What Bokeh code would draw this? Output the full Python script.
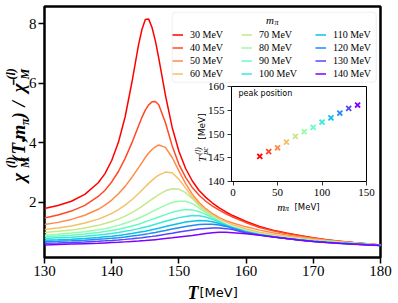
import math
from bokeh.plotting import figure
from bokeh.models import Range1d, Label, Legend, LegendItem, BoxAnnotation, FixedTicker
from bokeh.embed import file_html
from bokeh.resources import INLINE

# ---------------- data ----------------
T = [130, 132, 134, 136, 138, 139, 140, 141, 142, 143, 144, 144.5, 145, 145.5, 146, 146.5, 147,
     148, 149, 150, 151, 152, 153, 154, 155, 156, 157, 158, 160, 162, 164, 166, 168, 170, 172,
     174, 176, 178, 180]

chi_30 = [1.80, 1.90, 2.04, 2.27, 2.66, 2.97, 3.41, 4.02, 4.88, 6.03, 7.30, 7.81, 8.15, 8.16, 7.88, 7.43, 6.85,
          5.60, 4.52, 3.72, 3.14, 2.72, 2.40, 2.17, 1.98, 1.82, 1.68, 1.56, 1.36, 1.19, 1.07, 0.97, 0.89, 0.81,
          0.75, 0.70, 0.65, 0.61, 0.57]
chi_40 = [1.48, 1.575, 1.71, 1.90, 2.20, 2.41, 2.69, 3.04, 3.48, 4.00, 4.58, 4.86, 5.10, 5.28, 5.38, 5.39, 5.28,
          4.68, 3.90, 3.28, 2.84, 2.50, 2.24, 2.04, 1.88, 1.74, 1.62, 1.51, 1.32, 1.16, 1.05, 0.96, 0.88, 0.80,
          0.74, 0.69, 0.645, 0.605, 0.568]
chi_50 = [1.26, 1.33, 1.43, 1.57, 1.77, 1.91, 2.08, 2.29, 2.54, 2.84, 3.17, 3.34, 3.51, 3.66, 3.78, 3.87, 3.93,
          3.85, 3.51, 3.06, 2.63, 2.28, 2.00, 1.79, 1.62, 1.49, 1.39, 1.31, 1.18, 1.07, 0.98, 0.91, 0.85, 0.79,
          0.73, 0.69, 0.643, 0.603, 0.566]
chi_60 = [1.09, 1.14, 1.21, 1.31, 1.44, 1.53, 1.63, 1.76, 1.91, 2.09, 2.30, 2.41, 2.525, 2.64, 2.74, 2.84, 2.92,
          3.02, 3.00, 2.78, 2.48, 2.19, 1.93, 1.74, 1.58, 1.45, 1.34, 1.25, 1.11, 1.00, 0.925, 0.865, 0.805, 0.758,
          0.712, 0.672, 0.638, 0.60, 0.564]
chi_70 = [0.99, 1.03, 1.07, 1.14, 1.23, 1.29, 1.36, 1.44, 1.54, 1.66, 1.79, 1.87, 1.95, 2.03, 2.11, 2.19, 2.26,
          2.39, 2.46, 2.45, 2.33, 2.13, 1.89, 1.69, 1.52, 1.38, 1.27, 1.18, 1.055, 0.96, 0.885, 0.83, 0.78, 0.733,
          0.70, 0.665, 0.633, 0.598, 0.562]
chi_80 = [0.90, 0.93, 0.97, 1.015, 1.08, 1.12, 1.17, 1.23, 1.30, 1.38, 1.47, 1.52, 1.57, 1.63, 1.69, 1.745, 1.80,
          1.91, 2.00, 2.04, 2.04, 1.96, 1.82, 1.66, 1.50, 1.37, 1.26, 1.165, 1.035, 0.935, 0.865, 0.805, 0.755, 0.71,
          0.675, 0.648, 0.625, 0.594, 0.56]
chi_90 = [0.85, 0.87, 0.90, 0.94, 0.99, 1.02, 1.06, 1.10, 1.15, 1.21, 1.27, 1.31, 1.35, 1.39, 1.43, 1.47, 1.51,
          1.59, 1.67, 1.72, 1.76, 1.75, 1.69, 1.60, 1.48, 1.36, 1.25, 1.155, 1.025, 0.925, 0.855, 0.795, 0.745, 0.705,
          0.67, 0.643, 0.62, 0.59, 0.558]
chi_100 = [0.79, 0.81, 0.83, 0.865, 0.905, 0.93, 0.96, 0.99, 1.03, 1.07, 1.12, 1.15, 1.175, 1.20, 1.235, 1.27, 1.30,
           1.37, 1.43, 1.49, 1.53, 1.56, 1.555, 1.51, 1.43, 1.345, 1.245, 1.15, 1.015, 0.92, 0.85, 0.79, 0.74, 0.70,
           0.666, 0.639, 0.615, 0.587, 0.556]
chi_110 = [0.73, 0.745, 0.765, 0.79, 0.825, 0.845, 0.866, 0.89, 0.92, 0.955, 0.995, 1.015, 1.035, 1.06, 1.085, 1.11,
           1.135, 1.19, 1.245, 1.295, 1.34, 1.37, 1.39, 1.385, 1.35, 1.29, 1.22, 1.14, 1.005, 0.915, 0.848, 0.79,
           0.738, 0.697, 0.663, 0.635, 0.61, 0.584, 0.554]
chi_120 = [0.68, 0.694, 0.711, 0.733, 0.761, 0.777, 0.796, 0.817, 0.841, 0.869, 0.899, 0.916, 0.934, 0.952, 0.972,
           0.992, 1.013, 1.058, 1.104, 1.15, 1.193, 1.229, 1.255, 1.269, 1.266, 1.24, 1.195, 1.13, 0.995, 0.91, 0.846,
           0.788, 0.736, 0.694, 0.66, 0.631, 0.605, 0.58, 0.552]
chi_130 = [0.629, 0.64, 0.655, 0.673, 0.695, 0.709, 0.724, 0.74, 0.759, 0.78, 0.804, 0.817, 0.831, 0.845, 0.86, 0.876,
           0.893, 0.928, 0.965, 1.003, 1.041, 1.076, 1.105, 1.127, 1.139, 1.138, 1.12, 1.087, 0.975, 0.903, 0.843,
           0.787, 0.734, 0.69, 0.655, 0.626, 0.60, 0.576, 0.551]
chi_140 = [0.57, 0.585, 0.60, 0.615, 0.63, 0.64, 0.65, 0.66, 0.675, 0.69, 0.705, 0.713, 0.72, 0.73, 0.74, 0.75, 0.76,
           0.785, 0.81, 0.84, 0.865, 0.89, 0.92, 0.955, 0.985, 1.0, 0.995, 0.98, 0.945, 0.895, 0.84, 0.785, 0.73,
           0.685, 0.65, 0.62, 0.595, 0.57, 0.55]

m_pi = [30, 40, 50, 60, 70, 80, 90, 100, 110, 120, 130, 140]
T_pc = [145.3, 146.3, 147.1, 148.3, 149.5, 150.5, 151.4, 152.5, 153.4, 154.4, 155.4, 156.1]

x_ticks = [130, 140, 150, 160, 170, 180]
y_ticks = [2, 4, 6, 8]
inset_x_ticks = [0, 50, 100, 150]
inset_y_ticks = [140, 145, 150, 155, 160]

series = [chi_30, chi_40, chi_50, chi_60, chi_70, chi_80, chi_90, chi_100, chi_110, chi_120, chi_130, chi_140]
colors = ["#ff0000", "#ff4824", "#ff8a48", "#f3c16a", "#c5e88a", "#97fca7",
          "#68fcc1", "#3ae8d7", "#0cc1e8", "#238af5", "#5148fc", "#8000ff"]
labels = [f"{m} MeV" for m in m_pi]

SERIF = "Liberation Serif"
SANS = "DejaVu Sans"

def lab(fig, x, y, text, font, size, style="normal", angle=0.0, align="left", baseline="alphabetic"):
    fig.add_layout(Label(x=x, y=y, text=text, text_font=font, text_font_size=size,
                         text_font_style=style, angle=angle, text_align=align,
                         text_baseline=baseline, text_color="black"))

# ---------------- main figure (page origin at 0,0; frame x 44..380, y 6..257) ----------------
p = figure(width=396, height=301, x_range=Range1d(130, 180), y_range=Range1d(0.15, 8.584),
           output_backend="svg", toolbar_location=None,
           min_border_left=44, min_border_right=16, min_border_top=6, min_border_bottom=44)
p.xgrid.visible = False
p.ygrid.visible = False
p.outline_line_color = "black"
p.outline_line_width = 2.5
p.outline_line_alpha = 1
p.background_fill_color = "white"
p.border_fill_color = "white"

p.xaxis.ticker = FixedTicker(ticks=x_ticks)
p.yaxis.ticker = FixedTicker(ticks=y_ticks)
for ax in (p.xaxis, p.yaxis):
    ax.axis_line_color = None
    ax.major_tick_out = 6
    ax.major_tick_in = 0
    ax.minor_tick_out = 0
    ax.minor_tick_in = 0
    ax.major_tick_line_width = 1.5
    ax.major_tick_line_color = "black"
    ax.major_label_text_font = SERIF
    ax.major_label_text_font_size = "15px"
    ax.major_label_text_color = "black"
    ax.major_label_standoff = 2

renderers = []
for vals, c in zip(series, colors):
    renderers.append(p.line(T, vals, line_color=c, line_width=1.5))

def X(px):
    return 130 + (px - 44) / 6.72

def Y(py):
    return 0.15 + (257 - py) / 29.76

# legend background box
p.add_layout(BoxAnnotation(left=X(171.7), right=X(375.7), top=Y(11.7), bottom=Y(81.7),
                           fill_color="white", fill_alpha=0.8, line_color="#cccccc",
                           line_width=1, border_radius=3))
# legend columns
col_x = [174.3, 242.7, 316.7]
for ci in range(3):
    items = [LegendItem(label=labels[ci * 4 + k], renderers=[renderers[ci * 4 + k]]) for k in range(4)]
    leg = Legend(items=items, location=(int(round(col_x[ci] - 2 - 44)), 178), orientation="vertical",
                 padding=2, spacing=2, margin=0, glyph_width=11, glyph_height=11,
                 label_height=11, label_standoff=7, label_text_font=SERIF,
                 label_text_font_size="10px", label_text_color="black",
                 border_line_color=None, background_fill_alpha=0)
    p.add_layout(leg)

# ---------------- inset (separate root, absolutely positioned) ----------------
inset = figure(width=185, height=130, x_range=Range1d(-1.8, 150), y_range=Range1d(140, 160),
               output_backend="svg", toolbar_location=None,
               min_border_left=40, min_border_right=10, min_border_top=5, min_border_bottom=30)
inset.styles = {"position": "absolute", "left": "190.7px", "top": "81px"}
inset.xgrid.visible = False
inset.ygrid.visible = False
inset.outline_line_color = "black"
inset.outline_line_width = 1
inset.outline_line_alpha = 1
inset.background_fill_color = "white"
inset.border_fill_color = None
inset.xaxis.ticker = FixedTicker(ticks=inset_x_ticks)
inset.yaxis.ticker = FixedTicker(ticks=inset_y_ticks)
for ax in (inset.xaxis, inset.yaxis):
    ax.axis_line_color = None
    ax.major_tick_out = 4
    ax.major_tick_in = 0
    ax.minor_tick_out = 0
    ax.minor_tick_in = 0
    ax.major_tick_line_width = 0.8
    ax.major_tick_line_color = "black"
    ax.major_label_text_font = SERIF
    ax.major_label_text_font_size = "11px"
    ax.major_label_text_color = "black"
    ax.major_label_standoff = 3

inset.scatter(m_pi, T_pc, marker="x", size=7, line_width=1.8, line_color=colors)

def X2(px):
    return -1.8 + (px - 230.7) * 151.8 / 135

def Y2(py):
    return 140 + (181 - py) * 20 / 95

lab(inset, X2(237.7), Y2(93.3), "peak position", SANS, "8px", baseline="middle")

# ---------------- transparent text overlay (page-pixel coordinates) ----------------
ov = figure(width=396, height=301, x_range=Range1d(0, 396), y_range=Range1d(301, 0),
            output_backend="svg", toolbar_location=None, x_axis_type=None, y_axis_type=None,
            min_border_left=0, min_border_right=0, min_border_top=0, min_border_bottom=0)
ov.styles = {"position": "absolute", "left": "0px", "top": "0px"}
ov.outline_line_color = None
ov.background_fill_color = None
ov.border_fill_color = None
ov.xgrid.visible = False
ov.ygrid.visible = False

R = math.pi / 2
BI = "bold italic"

def rlab(x, y, text, font, size, style):
    lab(ov, x, y, text, font, size, style, angle=R, align="center", baseline="middle")

# main y axis label (rotated pieces, centre-anchored)
MX, SUP, SUB = 17.5, 10.0, 24.0
rlab(MX, 176.8, "χ", SERIF, "19px", BI)
rlab(SUP, 161.8, "(l)", SERIF, "12px", BI)
rlab(SUB, 162.2, "M", SERIF, "12px", BI)
rlab(MX, 158.3, "(", SERIF, "19px", BI)
rlab(MX, 148.2, "T", SERIF, "19px", BI)
rlab(MX, 139.1, ",", SERIF, "19px", BI)
rlab(MX, 131.6, "m", SERIF, "19px", BI)
rlab(SUB, 121.2, "π", SERIF, "12px", BI)
rlab(MX, 114.8, ")", SERIF, "19px", BI)
rlab(MX, 103.4, "/", SERIF, "19px", BI)
rlab(MX, 87.3, "χ̄", SERIF, "19px", BI)
rlab(SUP, 73.3, "(l)", SERIF, "12px", BI)
rlab(SUB, 73.7, "M", SERIF, "12px", BI)
# main x axis label
lab(ov, 187, 292, "T", SERIF, "18px", BI)
lab(ov, 199, 292, "[MeV]", SANS, "13px")
# legend title m_pi
lab(ov, 265.5, 19.5, "m", SERIF, "11px", "italic")
lab(ov, 274, 21.5, "π", SERIF, "8px", "italic")
# inset axis labels
lab(ov, 276.7, 206, "m", SERIF, "11px", "italic")
lab(ov, 284.5, 208, "π", SERIF, "8px", "italic")
lab(ov, 294, 206, "[MeV]", SANS, "8.5px")
rlab(201.5, 158.4, "T", SERIF, "11px", "italic")
rlab(197.5, 150.5, "(l)", SERIF, "8px", "italic")
rlab(205, 150.5, "pc", SERIF, "8px", "italic")
rlab(201.5, 126, "[MeV]", SANS, "9px", "normal")

open("out.html", "w").write(file_html([p, inset, ov], INLINE))
